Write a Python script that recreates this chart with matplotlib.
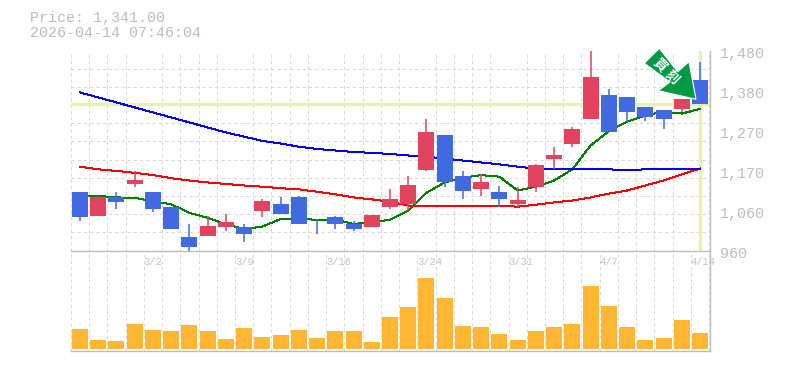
import numpy as np
import matplotlib
matplotlib.use("Agg")
import matplotlib.pyplot as plt
from matplotlib.patches import Polygon, Rectangle
from matplotlib.transforms import IdentityTransform, ScaledTranslation

W, H = 785, 370
# ---- data ----
opens  = [1111,1051,1098,1134,1111,1072,994,999,1022,1022,1064,1080,1100,1017,1046,1030,1022,1072,1080,1168,1259,1155,1119,1111,1082,1126,1199,1236,1303,1363,1360,1334,1324,1329,1402]
closes = [1046,1098,1085,1142,1067,1015,968,1025,1035,1004,1090,1056,1030,1015,1028,1015,1051,1095,1129,1267,1137,1116,1139,1093,1090,1181,1207,1277,1410,1269,1321,1308,1301,1355,1341]
highs  = [1111,1101,1113,1168,1111,1074,1028,1051,1056,1028,1093,1100,1103,1041,1051,1038,1051,1121,1155,1301,1259,1168,1160,1129,1124,1186,1230,1280,1480,1379,1360,1334,1324,1355,1451]
lows   = [1036,1051,1067,1124,1059,1015,960,999,1012,981,1048,1056,1030,1004,1015,1012,1022,1067,1064,1168,1126,1093,1103,1074,1072,1113,1173,1228,1303,1269,1293,1298,1277,1321,1341]
ma_short = [1103,1102,1098,1097,1088,1080,1058,1045,1028,1016,1022,1042,1042,1040,1041,1029,1033,1040,1064,1110,1137,1149,1156,1152,1116,1126,1142,1171,1233,1270,1295,1311,1321,1316,1328]
ma_mid   = [1178,1171,1167,1162,1156,1148,1142,1137,1133,1129,1126,1122,1119,1113,1106,1098,1093,1087,1077,1076,1076,1076,1076,1076,1074,1079,1085,1090,1098,1108,1116,1129,1142,1158,1173]
ma_long  = [1371,1358,1345,1332,1319,1306,1293,1280,1267,1256,1245,1238,1230,1224,1220,1216,1214,1211,1207,1204,1199,1194,1189,1184,1178,1173,1172,1171,1171,1171,1169,1171,1171,1172,1173]
volumes  = [20,9,8,25,19,18,24,18,10,21,12,14,19,11,18,18,7,32,42,71,51,23,22,15,9,18,22,25,63,43,22,9,11,29,16]
last_price = 1341
date_pos = [4,9,14,19,24,29,34]
date_labels = ["3/2","3/9","3/16","3/24","3/31","4/7","4/14"]
price_ticks = [1480,1376,1272,1168,1064,960]
price_labels = ["1,480","1,380","1,270","1,170","1,060","960"]
title_lines = ["Price: 1,341.00","2026-04-14 07:46:04"]

# ---- style ----
RED, BLUE, ORANGE = "#e2435f", "#4169e1", "#ffb733"
HL, GRID, AXC, TXT = "#e5f5a8", "#d8d8d8", "#bdbdbd", "#bdbdbd"
MONO = "Liberation Mono"
STEP = 18.235
BODY_W = 16/STEP

fig = plt.figure(figsize=(W/100, H/100), dpi=100, facecolor="white")
def axes_px(x0, y0, x1, y1):
    return fig.add_axes([x0/W, 1-y1/H, (x1-x0)/W, (y1-y0)/H])

ax = axes_px(70.7, 50.5, 710, 250.5)
vx = axes_px(70.7, 250.5, 710, 350.5)
ax.set_zorder(3); vx.set_zorder(2)
ax.patch.set_alpha(0)

n = len(opens)
xs = np.arange(n)
xlim = (-0.51, -0.51 + 639.3/STEP)
grid_x = np.arange(n+1) - 0.5
grid_y = np.linspace(960, 1480, 12)
DASH = (0, (3, 3))

for a in (ax, vx):
    a.set_xlim(*xlim)
    a.set_xticks(grid_x, minor=True)
    a.tick_params(which="both", length=0)
    a.grid(True, which="minor", axis="x", color=GRID, lw=0.75, ls=DASH, zorder=0)
    a.set_axisbelow(True)
    for s in ("top","left"):
        a.spines[s].set_visible(False)
    for s in ("right","bottom"):
        a.spines[s].set_color(AXC); a.spines[s].set_linewidth(1.0)

ax.set_ylim(960, 1480)
ax.set_yticks(grid_y, minor=True)
ax.grid(True, which="minor", axis="y", color=GRID, lw=0.75, ls=DASH, zorder=0)

# highlight lines
ax.axhline(last_price, color=HL, lw=2.3, zorder=1)
ax.axvline(xs[-1], color=HL, lw=2.3, zorder=1)

# moving averages, beneath the candles
for vals, col in ((ma_short,"#008000"),(ma_mid,"#ff0000"),(ma_long,"#0000ff")):
    ax.plot(xs, vals, color=col, lw=0.72, zorder=1.5, antialiased=False)

# candles
for i in xs:
    c = RED if closes[i] >= opens[i] else BLUE
    ax.plot([i,i],[lows[i],highs[i]], color=c, lw=1.1, zorder=2, solid_capstyle="butt", clip_on=False)
    b, t = min(opens[i],closes[i]), max(opens[i],closes[i])
    ax.add_patch(Rectangle((i-BODY_W/2,b), BODY_W, t-b, facecolor=c, edgecolor="none", zorder=3))

# price labels
ax.yaxis.tick_right()
ax.set_yticks(price_ticks, price_labels)
ax.tick_params(axis="y", which="major", pad=7, labelsize=10.8, labelcolor=TXT)
off = ScaledTranslation(0, -1.5/72, fig.dpi_scale_trans)
for lab in ax.get_yticklabels():
    lab.set_family(MONO); lab.set_transform(lab.get_transform()+off)

# date labels
ax.set_xticks(np.array(date_pos)-0.5, date_labels)
ax.tick_params(axis="x", which="major", pad=5, labelsize=7.6, labelcolor="#c4c4c4")
for lab in ax.get_xticklabels():
    lab.set_family(MONO); lab.set_ha("left")

# volume
vx.bar(xs, volumes, width=BODY_W, color=ORANGE, zorder=3)
vx.set_ylim(-2, 98)
vx.set_yticks([])
vx.set_xticks([])

# let the edge grid lines show in full
for a in (ax, vx):
    for t in a.xaxis.get_minor_ticks() + a.yaxis.get_minor_ticks():
        t.gridline.set_clip_on(False)

# titles
for txt, y in zip(title_lines, (18, 33)):
    fig.text(30, H-y, txt, transform=IdentityTransform(), family=MONO, fontsize=10.8,
             color=TXT, va="center", ha="left")

# signal arrow
arrow_px = [(659.3,48.3),(677.7,71.7),(689,61.7),(696,99.3),(658.3,90.7),(670,82),(644.3,63.3)]
fig.add_artist(Polygon([(x,H-y) for x,y in arrow_px], closed=True, transform=IdentityTransform(),
                       facecolor="#009944", edgecolor="white", lw=0.8, zorder=10))
for ch,(x,y) in zip("買刻", ((660,65),(672,77))):
    fig.text(x, H-y, ch, transform=IdentityTransform(), family=["Noto Sans CJK JP","DejaVu Sans"],
             fontsize=9.6, fontweight="bold", color="white", rotation=-45, rotation_mode="anchor",
             ha="center", va="center", zorder=11)

fig.savefig("out.png", dpi=100)
